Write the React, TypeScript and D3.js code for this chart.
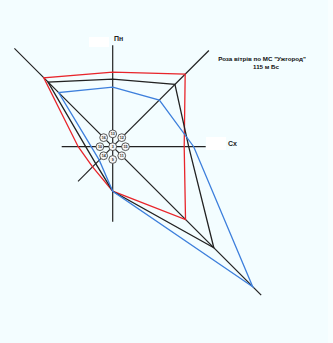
import React from "react";
import * as d3 from "d3";

const directions = ["Пн", "ПнСх", "Сх", "ПдСх", "Пд", "ПдЗх", "Зх", "ПнЗх"];
// wind frequency values per direction (N, NE, E, SE, S, SW, W, NW)
const seriesRed = [14.9, 20.5, 14.3, 20.6, 8.9, 5.7, 6.9, 19.5];
const seriesBlack = [13.5, 17.6, 15.2, 28.6, 8.9, 4.8, 5.4, 18.3];
const seriesBlue = [11.9, 13.2, 16.2, 39.6, 8.9, 3.8, 4.3, 15.3];
const axisLengths = [20.3, 27.2, 18.6, 42, 15, 9.8, 10.2, 27.8];
const circleLabels = ["13", "12", "15", "11", "9", "14", "10", "16"];
const centerLabel = "3";
const titleLines = ["Роза вітрів по МС \"Ужгород\"", "115 м Бс"];
const axisLabels = ["Пн", "Сх"];

const W = 333;
const H = 343;
const cx = 112.7;
const cy = 146.7;

export default function App() {
  const r = d3.scaleLinear().domain([0, 10]).range([0, 50]);
  const angle = d3
    .scaleLinear()
    .domain([0, directions.length])
    .range([0, 2 * Math.PI]);

  const line = d3
    .lineRadial<number>()
    .angle((_, i) => angle(i))
    .radius((d) => r(d))
    .curve(d3.curveLinearClosed);

  const pt = (i: number, v: number) => {
    const a = angle(i);
    return [r(v) * Math.sin(a), -r(v) * Math.cos(a)];
  };

  const series = [
    { data: seriesRed, color: "#e8252b" },
    { data: seriesBlack, color: "#222222" },
    { data: seriesBlue, color: "#3d7fdc" },
  ];

  const ringR = 12.8;
  const smallR = 3.9;
  const font = "Liberation Sans, Arial, sans-serif";

  return (
    <div style={{ position: "fixed", left: 0, top: 0, width: W, height: H }}>
      <svg width={W} height={H} style={{ display: "block" }}>
        <rect x={0} y={0} width={W} height={H} fill="#f3fdff" />
        <rect x={328} y={0} width={5} height={H} fill="#f8feff" />
        <g transform={`translate(${cx},${cy})`}>
          {axisLengths.map((len, i) => {
            const [x, y] = pt(i, len);
            return (
              <line
                key={"ax" + i}
                x1={0}
                y1={0}
                x2={x}
                y2={y}
                stroke="#222"
                strokeWidth={1.2}
              />
            );
          })}
          {series.map((s, k) => (
            <path
              key={"s" + k}
              d={line(s.data) || ""}
              fill="none"
              stroke={s.color}
              strokeWidth={1.3}
              strokeLinejoin="miter"
            />
          ))}
          {circleLabels.map((lab, i) => {
            const a = angle(i);
            const x = ringR * Math.sin(a);
            const y = -ringR * Math.cos(a);
            return (
              <g key={"c" + i} transform={`translate(${x},${y})`}>
                <circle r={smallR} fill="#f4f4f4" stroke="#333" strokeWidth={0.8} />
                <text
                  textAnchor="middle"
                  dy="0.35em"
                  fontSize={3.6}
                  fontWeight="bold"
                  fontFamily={font}
                  fill="#222"
                >
                  {lab}
                </text>
              </g>
            );
          })}
          <circle r={smallR} fill="#f4f4f4" stroke="#333" strokeWidth={0.8} />
          <text
            textAnchor="middle"
            dy="0.35em"
            fontSize={3.6}
            fontWeight="bold"
            fontFamily={font}
            fill="#222"
          >
            {centerLabel}
          </text>
        </g>
        <rect x={89} y={37} width={20} height={10} fill="#ffffff" />
        <rect x={206} y={137} width={20} height={13} fill="#ffffff" />
        <text x={114} y={40.5} fontSize={7} fontWeight="bold" fontFamily={font} fill="#222">
          {axisLabels[0]}
        </text>
        <text x={228} y={146} fontSize={7} fontWeight="bold" fontFamily={font} fill="#222">
          {axisLabels[1]}
        </text>
        <text
          x={262}
          y={60.5}
          textAnchor="middle"
          fontSize={6.2}
          fontWeight="bold"
          fontFamily={font}
          fill="#111"
        >
          {titleLines[0]}
        </text>
        <text
          x={266}
          y={68.5}
          textAnchor="middle"
          fontSize={6.2}
          fontWeight="bold"
          fontFamily={font}
          fill="#111"
        >
          {titleLines[1]}
        </text>
      </svg>
    </div>
  );
}
